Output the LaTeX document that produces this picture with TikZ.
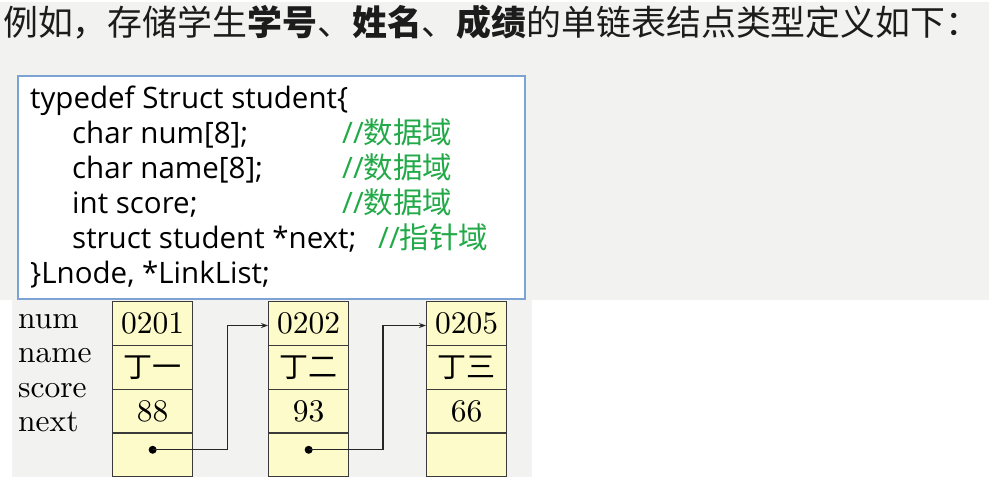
\documentclass[tikz,border=0pt]{standalone}
\usepackage{fontspec}
\newfontfamily\cjk{Noto Sans CJK SC}
\newfontfamily\codefont{Open Sans}
\newfontfamily\lmten{lmroman10-regular}[Extension=.otf]
\usetikzlibrary{arrows.meta,calc}
\definecolor{bggray}{HTML}{F2F2F1}
\definecolor{nodeyel}{HTML}{FDFBC9}
\definecolor{nodeline}{HTML}{3A3A3A}
\definecolor{codeblue}{HTML}{7DA2D4}
\definecolor{cmtgreen}{HTML}{22AA48}
\definecolor{titletext}{HTML}{1C1C1C}
\tikzset{
  cell/.style={draw=nodeline, line width=1.3pt, fill=nodeyel, minimum width=80pt, minimum height=43.75pt, inner sep=0pt, anchor=north west, font=\lmten\fontsize{31.5}{32}\selectfont},
  cjkcell/.style={cell, font=\cjk\fontsize{29}{32}\selectfont},
  fieldlabel/.style={anchor=base west, inner sep=0pt, font=\lmten\fontsize{31.5}{32}\selectfont},
  codeline/.style={anchor=base west, inner sep=0pt, font=\codefont\fontsize{29.5}{32}\selectfont},
  cmt/.style={codeline, text=cmtgreen},
  link/.style={draw=black!85, line width=1.3pt, -{Stealth[length=7pt,width=5pt]}},
  ptrdot/.style={circle, fill=black, inner sep=0pt, minimum size=8pt}
}
\begin{document}
\begin{tikzpicture}[x=1pt,y=-1pt]
\useasboundingbox (0,0) rectangle (999,488);
\fill[white] (0,0) rectangle (999,488);
% backgrounds
\fill[bggray] (0,2) rectangle (989,300);
\fill[bggray] (12,300) rectangle (532,477);
% title
\node[anchor=base west, inner sep=0pt, text=titletext, font=\cjk\fontsize{34.9}{38}\selectfont] (title) at (3,35)
  {例如，存储学生\textbf{学号}、\textbf{姓名}、\textbf{成绩}的单链表结点类型定义如下：};
% code box
\node[draw=codeblue, line width=1.6pt, fill=white, anchor=north west, minimum width=507pt, minimum height=223pt, inner sep=0pt] (codebox) at (17,75) {};
\node[codeline] (c1) at (30,108) {typedef Struct student\{};
\node[codeline] (c2) at (72,143) {char num[8];};
\node[codeline] (c3) at (72,178) {char name[8];};
\node[codeline] (c4) at (72,213) {int score;};
\node[codeline] (c5) at (72,248) {struct student *next;};
\node[codeline] (c6) at (30,283) {\}Lnode, *LinkList;};
\node[cmt] (m2) at (342,143) {//{\cjk 数据域}};
\node[cmt] (m3) at (342,178) {//{\cjk 数据域}};
\node[cmt] (m4) at (342,213) {//{\cjk 数据域}};
\node[cmt] (m5) at (378,248) {//{\cjk 指针域}};
% field labels
\node[fieldlabel] (lnum) at (18,328) {num};
\node[fieldlabel] (lname) at (18,362) {name};
\node[fieldlabel] (lscore) at (18,397) {score};
\node[fieldlabel] (lnext) at (18,431) {next};
% list nodes
\node[cell] (n1a) at (112,301) {0201};
\node[cjkcell] (n1b) at (112,344.75) {丁一};
\node[cell] (n1c) at (112,388.5) {88};
\node[cell] (n1d) at (112,432.25) {};
\node[cell] (n2a) at (268,301) {0202};
\node[cjkcell] (n2b) at (268,344.75) {丁二};
\node[cell] (n2c) at (268,388.5) {93};
\node[cell] (n2d) at (268,432.25) {};
\node[cell] (n3a) at (426,301) {0205};
\node[cjkcell] (n3b) at (426,344.75) {丁三};
\node[cell] (n3c) at (426,388.5) {66};
\node[cell] (n3d) at (426,432.25) {};
% pointers
\node[ptrdot] (p1) at ([yshift=5pt]n1d.center) {};
\node[ptrdot] (p2) at ([yshift=5pt]n2d.center) {};
\coordinate (t2) at ([yshift=-2pt]n2a.west);
\coordinate (t3) at ([yshift=-2pt]n3a.west);
\coordinate (k1) at ($(n1d.east)!0.46!(n2a.west)$);
\coordinate (k2) at ($(n2d.east)!0.44!(n3a.west)$);
\draw[link] (p1.center) -| (k1) |- (t2);
\draw[link] (p2.center) -| (k2) |- (t3);
\end{tikzpicture}
\end{document}
